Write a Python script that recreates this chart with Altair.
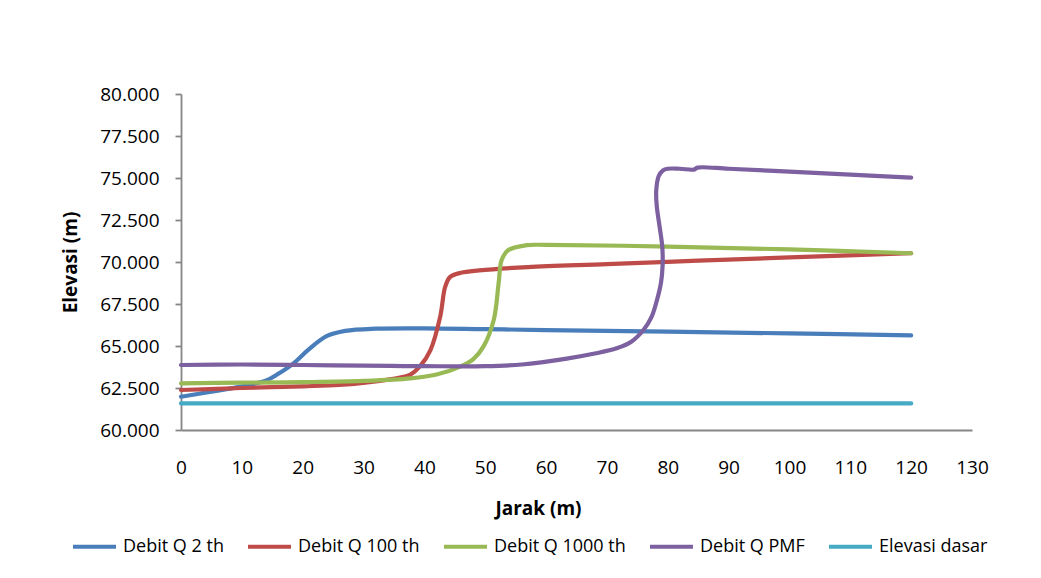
import altair as alt
import pandas as pd

SERIES = ["Debit Q 2 th", "Debit Q 100 th", "Debit Q 1000 th", "Debit Q PMF", "Elevasi dasar"]
COLORS = ["#4A7EBB", "#BE4B48", "#98B954", "#7D60A0", "#46AAC5"]

q2_x = [0, 5, 10, 14, 16, 18.5, 21, 24, 27, 32, 40, 50, 60, 80, 100, 120]
q2_y = [61.98, 62.28, 62.6, 62.95, 63.35, 63.97, 64.8, 65.6, 65.9, 66.03, 66.05, 66.0, 65.95, 65.85, 65.75, 65.63]

q100_x = [0, 10, 20, 26, 31, 36, 37.7, 39.3, 41, 42.6, 43.4, 44.2, 46, 49, 57, 70, 85, 100, 120]
q100_y = [62.38, 62.5, 62.6, 62.68, 62.85, 63.12, 63.3, 63.8, 64.76, 66.75, 68.5, 69.1, 69.36, 69.5, 69.7, 69.87, 70.08, 70.27, 70.52]

q1000_x = [0, 10, 20, 30, 37.7, 42, 45.9, 48, 49.7, 51.4, 52.2, 52.7, 53.8, 56.8, 60, 80, 100, 120]
q1000_y = [62.78, 62.82, 62.85, 62.92, 63.07, 63.3, 63.77, 64.2, 64.96, 66.55, 68.73, 70.12, 70.71, 71.0, 71.02, 70.92, 70.75, 70.52]

pmf_x = [0, 10, 20, 30, 40, 50, 56, 63.4, 68, 71.6, 74, 76, 77.3, 78.2, 78.9, 79.15, 79.1, 78.7,
         78.2, 78.1, 78.5, 79.2, 80, 82, 84.3, 84.9, 90, 100, 110, 120]
pmf_y = [63.87, 63.9, 63.87, 63.83, 63.8, 63.8, 63.9, 64.25, 64.55, 64.86, 65.25, 65.95, 66.7, 67.7,
         68.8, 69.8, 70.9, 72.0, 73.3, 74.2, 75.1, 75.45, 75.55, 75.55, 75.5, 75.62, 75.55, 75.38, 75.2, 75.02]

dasar_x = [0, 30, 50, 120]
dasar_y = [61.58, 61.58, 61.58, 61.58]

X_TICKS = list(range(0, 131, 10))
Y_TICKS = [60, 62.5, 65, 67.5, 70, 72.5, 75, 77.5, 80]

rows = []
for name, xs, ys in zip(SERIES, [q2_x, q100_x, q1000_x, pmf_x, dasar_x],
                        [q2_y, q100_y, q1000_y, pmf_y, dasar_y]):
    for i, (xv, yv) in enumerate(zip(xs, ys)):
        rows.append({"series": name, "x": xv, "y": yv, "i": i})
df = pd.DataFrame(rows)

FONT = "Open Sans"

chart = alt.Chart(df).mark_line(
    interpolate="catmull-rom", strokeWidth=4.2, strokeCap="round", strokeJoin="round"
).encode(
    x=alt.X("x:Q", scale=alt.Scale(domain=[0, 130], nice=False, zero=False),
            axis=alt.Axis(values=X_TICKS, format="d", title="Jarak (m)", ticks=False, tickSize=0,
                          labelPadding=37, labelBaseline="middle", labelFlush=False, grid=False,
                          titleX=357, titleY=78, titleAlign="center", titleBaseline="middle")),
    y=alt.Y("y:Q", scale=alt.Scale(domain=[60, 80], nice=False, zero=False),
            axis=alt.Axis(values=Y_TICKS, format=".3f", title="Elevasi (m)", tickSize=6,
                          labelPadding=16, labelFlush=False, grid=False,
                          titleX=-111, titleY=168, titleAlign="center", titleBaseline="middle",
                          titleAngle=270)),
    color=alt.Color("series:N", scale=alt.Scale(domain=SERIES, range=COLORS),
                    legend=alt.Legend(title=None, orient="none", legendX=-110, legendY=429,
                                      direction="horizontal", columns=5, symbolType="stroke",
                                      symbolSize=1849, symbolStrokeWidth=4, labelOffset=5,
                                      columnPadding=16, padding=0, labelFont=FONT,
                                      labelFontSize=18, labelColor="#000000", labelLimit=300)),
    order=alt.Order("i:Q"),
    detail="series:N",
).properties(
    width=791, height=336,
    autosize=alt.AutoSizeParams(type="none"),
    padding={"left": 181, "top": 94, "right": 69, "bottom": 148},
).configure(
    background="#ffffff"
).configure_view(
    stroke=None
).configure_axis(
    domainColor="#868686", domainWidth=1.8, tickColor="#868686", tickWidth=1.8,
    labelFont=FONT, labelFontSize=19, labelColor="#000000",
    titleFont=FONT, titleFontSize=19, titleFontWeight="bold", titleColor="#000000",
)

chart.save("out.html", embed_options={"renderer": "svg", "actions": False})
